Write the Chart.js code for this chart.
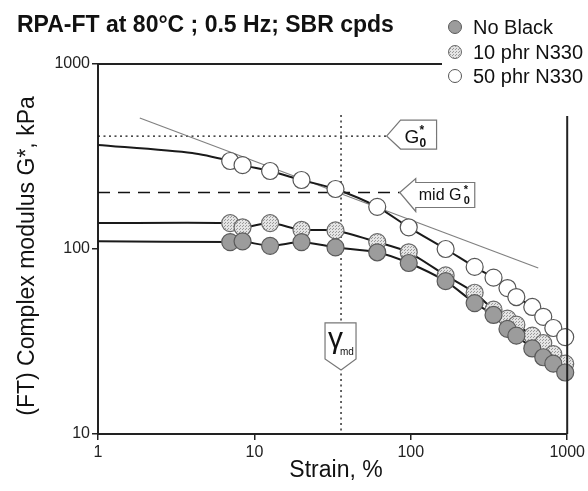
<!DOCTYPE html>
<html lang="en">
<head>
    <meta charset="UTF-8">
    <title>RPA-FT SBR cpds</title>
    <script src="https://cdn.jsdelivr.net/npm/chart.js"></script>
    <style>
        html, body { margin: 0; padding: 0; background: #fff; }
        #wrap { width: 588px; height: 491px; }
    </style>
</head>
<body>
    <div id="wrap"><canvas id="myChart" width="588" height="491"></canvas></div>

    <script>
        // strain values (%)
        const strain = [7, 8.4, 12.6, 20, 33, 61, 97, 167, 256, 338, 415, 473, 598, 703, 815, 971];
        // G* (kPa)
        const noBlack = [109, 110, 104, 109, 102, 96, 84, 67, 51, 44, 37, 34, 29, 26, 24, 21.5];
        const phr10 = [138, 131, 138, 127, 126, 109, 96, 72, 58, 47, 42, 39, 34, 31, 27, 24];
        const phr50 = [299, 284, 264, 236, 211, 169, 131, 100, 80, 70, 61.5, 55, 48.6, 43, 37.4, 33.4];

        // start of the fitted curves (low strain plateau)
        const fitStartX50 = [1, 4];
        const fitStartY50 = [365, 330];
        const fitStartY10 = [138];
        const fitStartYNo = [110];

        // slope reference line
        const slopeX = [1.85, 653];
        const slopeY = [511, 79];

        // markers
        const g0 = 408;
        const midG0 = 202;
        const gammaMd = 35.8;

        const xTicks = [1, 10, 100, 1000];
        const yTicks = [10, 100, 1000];

        const seriesNames = ['No Black', '10 phr N330', '50 phr N330'];

        const FONT = 'Arial, "Liberation Sans", sans-serif';

        // dotted fill for the 10 phr markers
        const pc = document.createElement('canvas');
        pc.width = 3; pc.height = 3;
        const pctx = pc.getContext('2d');
        pctx.fillStyle = '#e4e4e4';
        pctx.fillRect(0, 0, 3, 3);
        pctx.fillStyle = '#9a9a9a';
        pctx.fillRect(0, 0, 1, 1);
        pctx.fillRect(2, 1, 1, 1);
        const dotted = pctx.createPattern(pc, 'repeat');

        const fills = ['#9c9c9c', dotted, '#ffffff'];
        const borders = ['#5a5a5a', '#6a6a6a', '#555555'];

        const pts = (xs, ys) => xs.map((x, i) => ({ x: x, y: ys[i] }));

        const fit50 = pts(fitStartX50, fitStartY50).concat(pts(strain, phr50));
        const fit10 = [{ x: 1, y: fitStartY10[0] }].concat(pts(strain, phr10));
        const fitNo = [{ x: 1, y: fitStartYNo[0] }].concat(pts(strain, noBlack));

        const lineDs = (data, order) => ({
            type: 'line', data: data, borderColor: '#1a1a1a', borderWidth: 2,
            pointRadius: 0, tension: 0.25, fill: false, order: order, clip: false
        });
        const dotDs = (data, i, order) => ({
            type: 'scatter', label: seriesNames[i], data: data,
            backgroundColor: fills[i], borderColor: borders[i], borderWidth: 1.2,
            pointRadius: 8.5, pointHoverRadius: 8.5, order: order, clip: false
        });

        // annotation drawing
        function callout(ctx, tipX, tipY, dir) {
            ctx.save();
            ctx.fillStyle = '#fff';
            ctx.strokeStyle = '#777';
            ctx.lineWidth = 1.2;
            ctx.beginPath();
            if (dir === 'G0') {
                ctx.moveTo(tipX, tipY);
                ctx.lineTo(tipX + 14, tipY - 16);
                ctx.lineTo(tipX + 50, tipY - 16);
                ctx.lineTo(tipX + 50, tipY + 13);
                ctx.lineTo(tipX + 14, tipY + 13);
            } else if (dir === 'mid') {
                ctx.moveTo(tipX, tipY);
                ctx.lineTo(tipX + 16, tipY - 14);
                ctx.lineTo(tipX + 16, tipY - 10);
                ctx.lineTo(tipX + 75, tipY - 10);
                ctx.lineTo(tipX + 75, tipY + 15);
                ctx.lineTo(tipX + 16, tipY + 15);
                ctx.lineTo(tipX + 16, tipY + 19);
            } else {
                ctx.moveTo(tipX, tipY);
                ctx.lineTo(tipX - 16, tipY - 11);
                ctx.lineTo(tipX - 16, tipY - 47);
                ctx.lineTo(tipX + 15, tipY - 47);
                ctx.lineTo(tipX + 15, tipY - 11);
            }
            ctx.closePath();
            ctx.fill();
            ctx.stroke();
            ctx.restore();
        }

        const decor = {
            id: 'decor',
            beforeDatasetsDraw(chart) {
                const { ctx, chartArea: a, scales: { x, y } } = chart;
                ctx.save();
                ctx.strokeStyle = '#111';
                ctx.lineWidth = 1.3;
                // G0 dotted
                ctx.setLineDash([2, 3.5]);
                const yg = y.getPixelForValue(g0);
                ctx.beginPath();
                ctx.moveTo(a.left, yg);
                ctx.lineTo(x.getPixelForValue(70), yg);
                ctx.stroke();
                // gamma md dotted
                const xg = x.getPixelForValue(gammaMd);
                ctx.beginPath();
                ctx.moveTo(xg, y.getPixelForValue(530));
                ctx.lineTo(xg, a.bottom);
                ctx.stroke();
                // mid G0 dashed
                ctx.setLineDash([12, 8]);
                const ym = y.getPixelForValue(midG0);
                ctx.beginPath();
                ctx.moveTo(a.left, ym);
                ctx.lineTo(x.getPixelForValue(85), ym);
                ctx.stroke();
                ctx.restore();
            },
            afterDatasetsDraw(chart) {
                const { ctx, chartArea: a, scales: { x, y } } = chart;
                ctx.save();
                // partial frame
                ctx.strokeStyle = '#222';
                ctx.lineWidth = 2;
                ctx.beginPath();
                ctx.moveTo(a.left, a.top);
                ctx.lineTo(442, a.top);
                ctx.moveTo(a.right, 116);
                ctx.lineTo(a.right, a.bottom);
                ctx.stroke();

                // callouts
                const gx = x.getPixelForValue(70), gy = y.getPixelForValue(g0);
                callout(ctx, gx, gy, 'G0');
                const mx = x.getPixelForValue(85), my = y.getPixelForValue(midG0);
                callout(ctx, mx, my, 'mid');
                const tx = x.getPixelForValue(gammaMd), ty = y.getPixelForValue(22.2);
                callout(ctx, tx, ty, 'gamma');

                ctx.fillStyle = '#111';
                ctx.textBaseline = 'alphabetic';
                ctx.font = '19px ' + FONT;
                ctx.fillText('G', gx + 18, gy + 7);
                ctx.font = 'bold 12px ' + FONT;
                ctx.fillText('0', gx + 33, gy + 11);
                ctx.fillText('*', gx + 33, gy - 2);

                ctx.font = '16px ' + FONT;
                ctx.fillText('mid G', mx + 19, my + 7);
                ctx.font = 'bold 11px ' + FONT;
                ctx.fillText('0', mx + 64, my + 11);
                ctx.fillText('*', mx + 64, my);

                ctx.font = '30px ' + FONT;
                ctx.fillText('\u03B3', tx - 13, ty - 22);
                ctx.font = '10px ' + FONT;
                ctx.fillText('md', tx - 1, ty - 15);

                // title
                ctx.font = 'bold 23px ' + FONT;
                ctx.fillText('RPA-FT at 80\u00B0C ; 0.5 Hz; SBR cpds', 17, 32);

                // legend
                const ly = [27, 52, 76];
                ctx.font = '20px ' + FONT;
                ctx.textBaseline = 'middle';
                seriesNames.forEach((n, i) => {
                    ctx.beginPath();
                    ctx.arc(455, ly[i], 6.5, 0, Math.PI * 2);
                    ctx.fillStyle = fills[i];
                    ctx.fill();
                    ctx.strokeStyle = borders[i];
                    ctx.lineWidth = 1;
                    ctx.stroke();
                    ctx.fillStyle = '#111';
                    ctx.fillText(n, 473, ly[i] + 1);
                });

                // axis titles
                ctx.font = '23px ' + FONT;
                ctx.textAlign = 'center';
                ctx.fillText('Strain, %', 336, 471);
                ctx.translate(28, 256);
                ctx.rotate(-Math.PI / 2);
                ctx.fillText('(FT) Complex modulus G*, kPa', 0, 0);
                ctx.restore();
            }
        };

        new Chart(document.getElementById('myChart'), {
            data: {
                datasets: [
                    dotDs(pts(strain, noBlack), 0, 1),
                    dotDs(pts(strain, phr10), 1, 2),
                    dotDs(pts(strain, phr50), 2, 3),
                    lineDs(fitNo, 4),
                    lineDs(fit10, 5),
                    lineDs(fit50, 6),
                    {
                        type: 'line', data: pts(slopeX, slopeY), borderColor: '#808080',
                        borderWidth: 1.2, pointRadius: 0, fill: false, order: 7
                    }
                ]
            },
            options: {
                responsive: false,
                animation: false,
                layout: { padding: { top: 64, right: 19, left: 0, bottom: 0 } },
                plugins: { legend: { display: false }, tooltip: { enabled: false } },
                scales: {
                    x: {
                        type: 'logarithmic', min: 1, max: 1000,
                        afterBuildTicks: (s) => { s.ticks = xTicks.map(v => ({ value: v })); },
                        afterFit: (s) => { s.height = 57; },
                        ticks: {
                            callback: (v) => String(v), color: '#222', maxRotation: 0,
                            font: { family: FONT, size: 16 }, padding: 3
                        },
                        grid: { drawOnChartArea: false, drawTicks: true, tickLength: 6, color: '#222', lineWidth: 1.5 },
                        border: { color: '#222', width: 2 }
                    },
                    y: {
                        type: 'logarithmic', min: 10, max: 1000,
                        afterBuildTicks: (s) => { s.ticks = yTicks.map(v => ({ value: v })); },
                        afterFit: (s) => { s.width = 98; },
                        ticks: {
                            callback: (v) => String(v), color: '#222',
                            font: { family: FONT, size: 16 }, padding: 2
                        },
                        grid: { drawOnChartArea: false, drawTicks: true, tickLength: 6, color: '#222', lineWidth: 1.5 },
                        border: { color: '#222', width: 2 }
                    }
                }
            },
            plugins: [decor]
        });
    </script>
</body>
</html>
